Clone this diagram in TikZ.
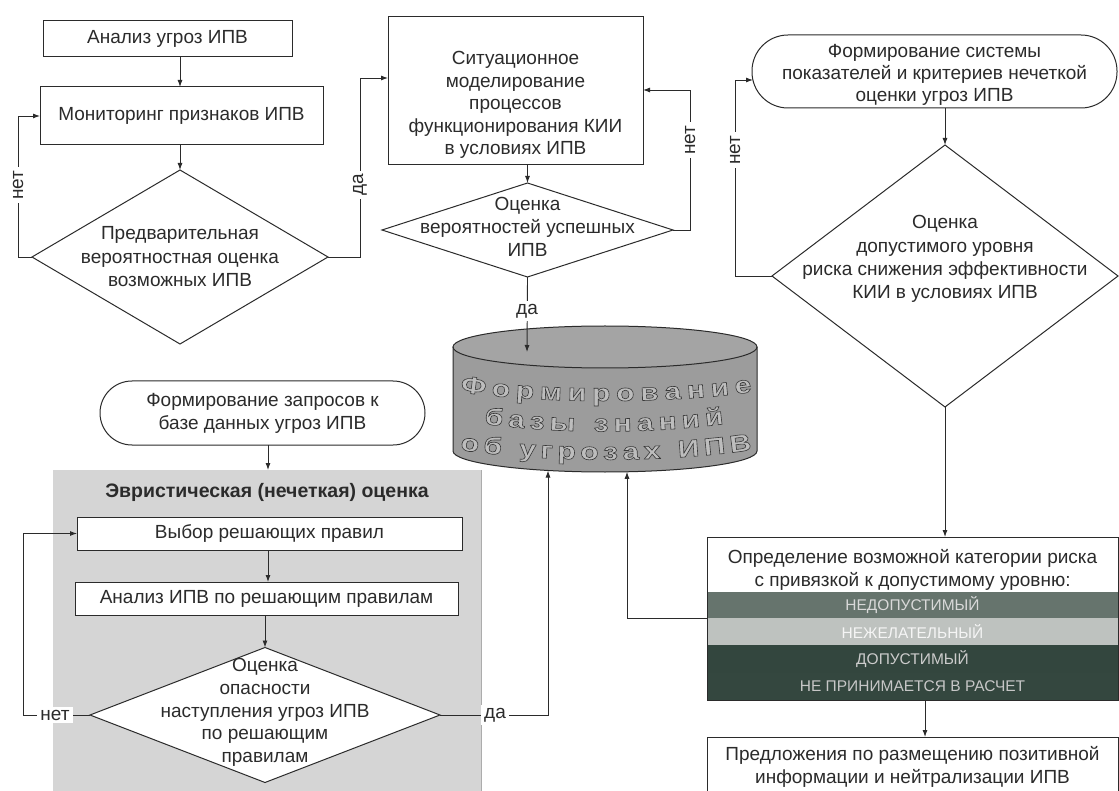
\documentclass[tikz,border=0pt]{standalone}
\usepackage{fontspec}
\setmainfont{Liberation Sans}
\newfontfamily\cylfam[FakeStretch=1.25,FakeBold=2.5]{Liberation Sans Bold}
\usetikzlibrary{shapes.geometric,arrows.meta,decorations.text}
\definecolor{ink}{HTML}{2B2B2B}
\definecolor{pnlgray}{HTML}{D5D5D5}
\definecolor{cylgray}{HTML}{9C9C9C}
\definecolor{cyltop}{HTML}{A4A4A4}
\definecolor{cylin}{HTML}{BDBDBD}
\definecolor{bandA}{HTML}{66746D}
\definecolor{bandB}{HTML}{BEC2BF}
\definecolor{bandC}{HTML}{33463E}
\definecolor{bandD}{HTML}{34473F}
\newcommand\fsmain{\fontsize{19}{23}\selectfont}
\newcommand\fsband{\fontsize{15.5}{16}\selectfont}
\newcommand\fscyl{\cylfam\fontsize{24}{24}\selectfont\color{cylin}\special{pdf:literal direct 0.22 0.22 0.22 RG}}
\tikzset{
  txt/.style={align=center, font=\fsmain, text=ink, inner sep=0pt},
  boxnode/.style={draw=ink, line width=1pt, fill=white, inner sep=0pt, outer sep=0pt, align=center, font=\fsmain, text=ink},
  stadnode/.style={boxnode, rounded corners=32pt},
  dianode/.style={shape=diamond, draw=ink, line width=1pt, fill=white, inner sep=0pt, outer sep=0pt},
  bandnode/.style={inner sep=0pt, outer sep=0pt, minimum width=411pt, font=\fsband},
  lbl/.style={font=\fsmain, text=ink, fill=white, inner sep=3pt},
  conn/.style={draw=ink, line width=0.9pt},
  arr/.style={conn, -{Latex[length=7pt,width=5pt]}},
  cyltext/.style={decorate, decoration={text along path, text align={fit to path}, text={|\fscyl|#1}}},
}
\begin{document}
\begin{tikzpicture}[x=1pt,y=-1pt]
\useasboundingbox (0,0) rectangle (1119,791);
\clip (0,0) rectangle (1119,791);
\fill[white] (0,0) rectangle (1119,791);

% helper coordinates
\coordinate (ya) at (0,78);
\coordinate (yb) at (0,90);
\coordinate (s3in) at (753,80);
\coordinate (xs) at (268,0);
\coordinate (xo) at (925,0);
\coordinate (ct) at (527,352);
\coordinate (cb1) at (548,470.5);
\coordinate (cb2) at (627,471.8);

% grey panel
\node[fill=pnlgray, inner sep=0pt, outer sep=0pt, minimum width=428pt, minimum height=330pt] (pnl) at (267,635) {};
\draw[gray!65, line width=0.7pt] (pnl.north east) -- (pnl.south east);
\node[txt, font=\bfseries\fontsize{19.5}{23}\selectfont] (ttl) at (267,492) {Эвристическая (нечеткая) оценка};

% top left
\node[boxnode, minimum width=249pt, minimum height=36pt] (b1) at (167.5,39) {Анализ угроз ИПВ};
\node[boxnode, minimum width=283pt, minimum height=58pt] (b2) at (181.5,116) {Мониторинг признаков ИПВ};
\node[dianode, minimum width=296pt, minimum height=174pt] (d1) at (180,257) {};
\node[txt, font=\fontsize{19}{23.5}\selectfont] (t1) at (180,257) {Предварительная\\вероятностная оценка\\возможных ИПВ};

% top middle
\node[boxnode, minimum width=255pt, minimum height=148pt] (b3) at (515.5,91) {};
\node[txt, font=\fontsize{19}{22.5}\selectfont] (t3) at (515.5,105) {Ситуационное\\моделирование\\процессов\\функционирования КИИ\\в условиях ИПВ};
\node[dianode, minimum width=291pt, minimum height=94pt] (d2) at (527.5,230) {};
\node[txt] (t2) at (527.5,227) {Оценка\\вероятностей успешных\\ИПВ};

% top right
\node[stadnode, rounded corners=36pt, minimum width=365pt, minimum height=73pt] (s3) at (934.5,71.5) {};
\node[txt, font=\fontsize{19}{22}\selectfont] (ts3) at (934.5,75) {Формирование системы\\показателей и критериев нечеткой\\оценки угроз ИПВ};
\node[dianode, minimum width=346pt, minimum height=262pt] (d3) at (945,276) {};
\node[txt, font=\fontsize{19}{23.3}\selectfont] (td3) at (945,259) {Оценка\\допустимого уровня\\риска снижения эффективности\\КИИ в условиях ИПВ};

% risk category box
\node[boxnode, minimum width=411pt, minimum height=163pt] (opr) at (912.5,618.5) {};
\node[txt] (topr) at (912.5,570) {Определение возможной категории риска\\с привязкой к допустимому уровню:};
\node[bandnode, fill=bandA, text=white!85!black, minimum height=26pt] (bd1) at (912.5,605) {НЕДОПУСТИМЫЙ};
\node[bandnode, fill=bandB, text=white!96!black, minimum height=27pt] (bd2) at (912.5,631.5) {НЕЖЕЛАТЕЛЬНЫЙ};
\node[bandnode, fill=bandC, text=white!80!black, minimum height=28pt] (bd3) at (912.5,659) {ДОПУСТИМЫЙ};
\node[bandnode, fill=bandD, text=white!78!black, minimum height=27pt] (bd4) at (912.5,686.5) {НЕ ПРИНИМАЕТСЯ В РАСЧЕТ};
\draw[ink, line width=1pt] (opr.north west) rectangle (opr.south east);

\node[boxnode, minimum width=411pt, minimum height=70pt] (pred) at (912.5,772) {};
\node[txt] (tpred) at (912.5,766.5) {Предложения по размещению позитивной\\информации и нейтрализации ИПВ};

% bottom left
\node[stadnode, minimum width=325pt, minimum height=64pt] (s2) at (262.5,413) {Формирование запросов к\\базе данных угроз ИПВ};
\node[boxnode, minimum width=385pt, minimum height=33pt] (b5) at (269.5,533.5) {Выбор решающих правил};
\node[boxnode, minimum width=383pt, minimum height=33pt] (b6) at (266.5,598.5) {Анализ ИПВ по решающим правилам};
\node[dianode, minimum width=350pt, minimum height=135pt] (d4) at (265,715) {};
\node[txt, font=\fontsize{19}{22.7}\selectfont] (td4) at (265,712.5) {Оценка\\опасности\\наступления угроз ИПВ\\по решающим\\правилам};

% cylinder (knowledge base)
\fill[cylgray] (453,347) -- (453,451) .. controls (453,462.6) and (521,472) .. (605,472) .. controls (689,472) and (757,462.6) .. (757,451) -- (757,347) -- cycle;
\fill[cyltop] (605,347) ellipse [x radius=152pt, y radius=21pt];
\draw[ink, line width=1pt] (453,347) -- (453,451) .. controls (453,462.6) and (521,472) .. (605,472) .. controls (689,472) and (757,462.6) .. (757,451) -- (757,347);
\draw[ink, line width=1pt] (605,347) ellipse [x radius=152pt, y radius=21pt];
\path[cyltext={Формирование}] (460,392) .. controls (540,404) and (670,404) .. (752,392);
\path[cyltext={базы знаний}] (484,424) .. controls (562,434) and (646,434) .. (724,424);
\path[cyltext={об угрозах ИПВ}] (460,450) .. controls (550,463) and (660,463) .. (752,450);

% connectors
\draw[arr] (b1.south -| d1.north) -- (b2.north -| d1.north);
\draw[arr] (b2.south -| d1.north) -- (d1.north);
\draw[arr] (d1.west) -- ++(-14,0) |- (b2.west);
\draw[arr] (d1.east) -- ++(32,0) |- (b3.west |- ya);
\draw[arr] (b3.south -| d2.north) -- (d2.north);
\draw[arr] (d2.east) -- ++(17,0) |- (b3.east |- yb);
\draw[arr] (d2.south) -- (ct);
\draw[arr] (s3.south -| d3.north) -- (d3.north);
\draw[arr] (d3.west) -- ++(-37,0) |- (s3in);
\draw[arr] (d3.south) -- (d3.south |- opr.north);
\draw[arr] (opr.south -| xo) -- (pred.north -| xo);
\draw[arr] (bd1.south west) -| (cb2);
\draw[arr] (s2.south -| xs) -- (pnl.north -| xs);
\draw[arr] (b5.south -| xs) -- (b6.north -| xs);
\draw[arr] (b6.south -| d4.north) -- (d4.north);
\draw[arr] (d4.west) -- ++(-67,0) |- (b5.west);
\draw[arr] (d4.east) -| (cb1);

% labels
\node[lbl, rotate=90] (n1) at (18,185) {нет};
\node[lbl, rotate=90] (y1) at (360,185) {да};
\node[lbl, rotate=90] (n2) at (690,140) {нет};
\node[lbl, rotate=90] (n3) at (735,150) {нет};
\node[lbl] (y2) at (527,311) {да};
\node[lbl] (n4) at (55,715) {нет};
\node[lbl] (y4) at (495,715) {да};
\end{tikzpicture}
\end{document}
